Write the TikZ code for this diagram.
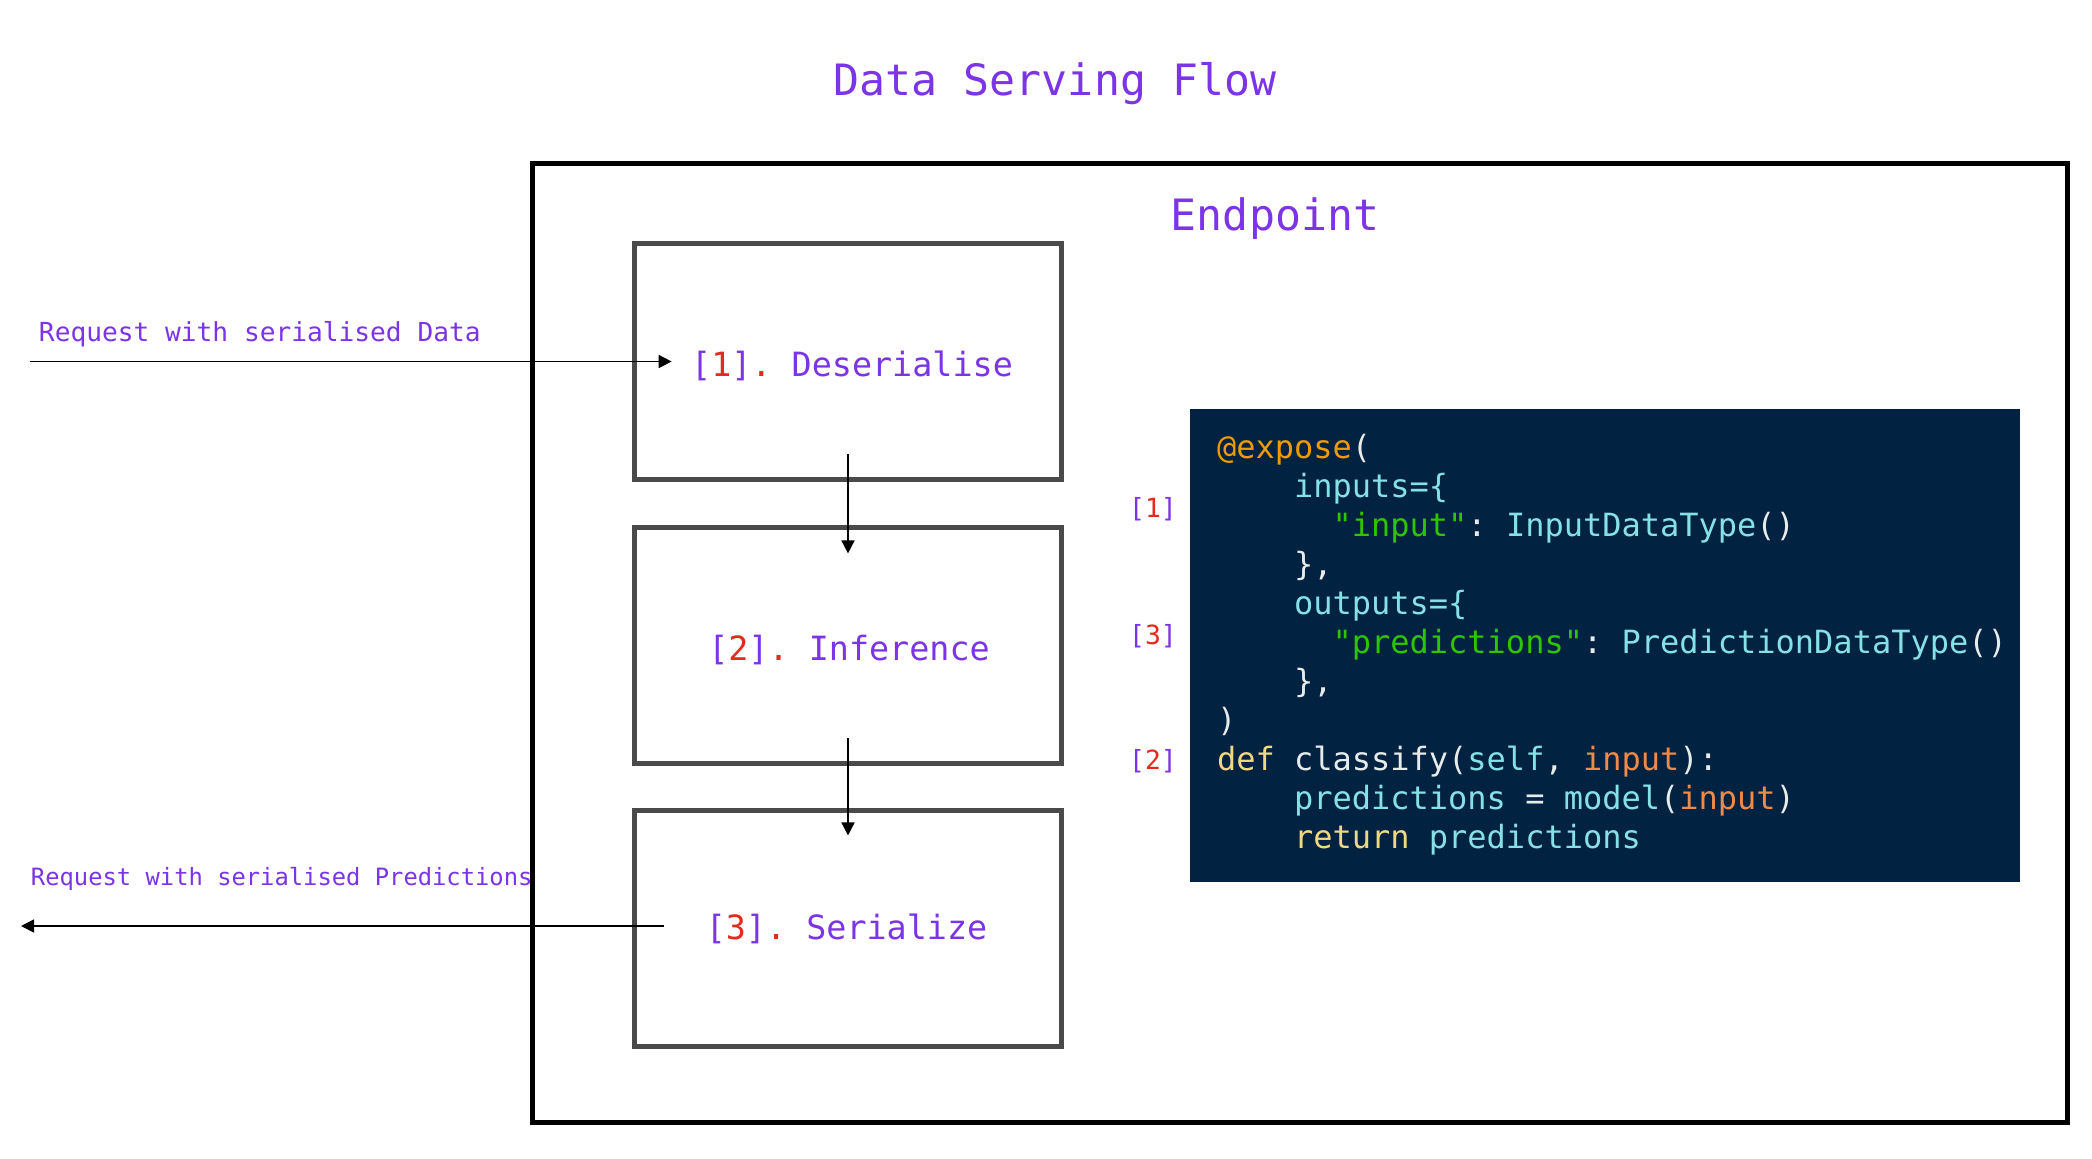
\documentclass[tikz,border=0pt]{standalone}
\usepackage{fontspec}
\newfontfamily\monof{DejaVu Sans Mono}
\usetikzlibrary{arrows.meta,calc}
\definecolor{vio}{HTML}{7B34E6}
\definecolor{rd}{HTML}{E42A1C}
\definecolor{boxgray}{HTML}{4A4A4A}
\definecolor{navy}{HTML}{012240}
\definecolor{corange}{HTML}{EE9A00}
\definecolor{corange2}{HTML}{F08A48}
\definecolor{ccyan}{HTML}{86E1E6}
\definecolor{cgreen}{HTML}{2EC400}
\definecolor{cyellow}{HTML}{F0D880}
\definecolor{cwhite}{HTML}{E6ECEC}
\newcommand{\ind}[1]{\hspace*{#1\fontcharwd\font`x}}
\newcommand{\num}[1]{[\textcolor{rd}{#1}]\textcolor{rd}{.}}
\begin{document}
\frenchspacing
\begin{tikzpicture}[x=0.5pt,y=-0.5pt,
  stepbox/.style={draw=boxgray,line width=2.35pt,minimum width=213.5pt,minimum height=118pt,inner sep=0pt},
  txt/.style={inner sep=0pt,outer sep=0pt,text=vio,font=\monof},
  arr/.style={line width=0.85pt,-{Triangle[length=6.5pt,width=6.5pt]}},
  codeline/.style={anchor=base west,inner sep=0pt,outer sep=0pt,text=cwhite,font=\monof\fontsize{16}{19}\selectfont},
  tag/.style={txt,anchor=base,font=\monof\fontsize{13.2}{16}\selectfont}]
\useasboundingbox (0,0) rectangle (2092,1158);
\fill[white] (0,0) rectangle (2092,1158);

% outer endpoint frame
\node[draw=black,line width=2.5pt,minimum width=767.5pt,minimum height=479.25pt,inner sep=0pt] (outer) at (1300,642.75) {};

% titles
\node[txt,anchor=base,font=\monof\fontsize{21.6}{26}\selectfont] (title) at (1055,95) {Data Serving Flow};
\node[txt,anchor=base,font=\monof\fontsize{21.6}{26}\selectfont] (endpoint) at (1275,230) {Endpoint};

% step boxes
\node[stepbox] (box1) at (848,361.5) {};
\node[stepbox] (box2) at (848,645.75) {};
\node[stepbox] (box3) at (848,928.25) {};

\node[txt,anchor=base,font=\monof\fontsize{16.7}{20}\selectfont] (lab1) at (852,376) {\num{1} Deserialise};
\node[txt,anchor=base,font=\monof\fontsize{16.7}{20}\selectfont] (lab2) at (849,660) {\num{2} Inference};
\node[txt,anchor=base,font=\monof\fontsize{16.7}{20}\selectfont] (lab3) at (846.5,939) {\num{3} Serialize};

% request labels
\node[txt,anchor=base west,font=\monof\fontsize{13.1}{16}\selectfont] (req1) at (39,341) {Request with serialised Data};
\node[txt,anchor=base west,font=\monof\fontsize{11.9}{14}\selectfont] (req2) at (31,885) {Request with serialised Predictions};

% connectors
\coordinate (inStart) at (30,361.5);
\coordinate (outEnd) at (21,926);
\draw[arr] (inStart) -- ($(box1.west)+(39.5,0)$);
\draw[arr] ($(box1.south)+(0,-27.5)$) -- ($(box2.north)+(0,28)$);
\draw[arr] ($(box2.south)+(0,-28.5)$) -- ($(box3.north)+(0,27.5)$);
\draw[arr] ($(box3.west)+(31.5,-2.25)$) -- (outEnd);

% code panel
\node[fill=navy,minimum width=415pt,minimum height=236.5pt,inner sep=0pt] (code) at (1605,645.5) {};
\node[codeline] (c1) at (1217,458) {\textcolor{corange}{@expose}(};
\node[codeline] (c2) at (1217,497) {\ind{4}\textcolor{ccyan}{inputs=\{}};
\node[codeline] (c3) at (1217,536) {\ind{6}\textcolor{cgreen}{"input"}: \textcolor{ccyan}{InputDataType}()};
\node[codeline] (c4) at (1217,575) {\ind{4}\},};
\node[codeline] (c5) at (1217,614) {\ind{4}\textcolor{ccyan}{outputs=\{}};
\node[codeline] (c6) at (1217,653) {\ind{6}\textcolor{cgreen}{"predictions"}: \textcolor{ccyan}{PredictionDataType}()};
\node[codeline] (c7) at (1217,692) {\ind{4}\},};
\node[codeline] (c8) at (1217,731) {)};
\node[codeline] (c9) at (1217,770) {\textcolor{cyellow}{def} classify(\textcolor{ccyan}{self}, \textcolor{corange2}{input}):};
\node[codeline] (c10) at (1217,809) {\ind{4}\textcolor{ccyan}{predictions} = \textcolor{ccyan}{model}(\textcolor{corange2}{input})};
\node[codeline] (c11) at (1217,848) {\ind{4}\textcolor{cyellow}{return} \textcolor{ccyan}{predictions}};

% side tags
\node[tag] (t1) at (1153,517) {[\textcolor{rd}{1}]};
\node[tag] (t3) at (1153,644) {[\textcolor{rd}{3}]};
\node[tag] (t2) at (1153,769) {[\textcolor{rd}{2}]};
\end{tikzpicture}
\end{document}
